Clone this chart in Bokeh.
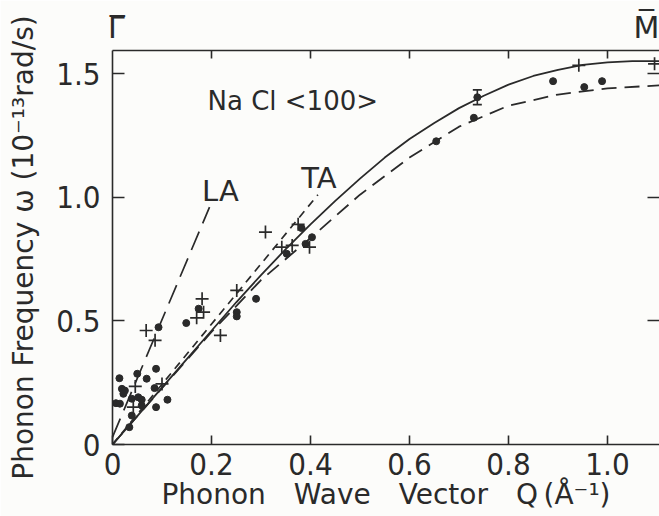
from bokeh.plotting import figure
from bokeh.models import FixedTicker, LinearAxis, Whisker, ColumnDataSource, TeeHead
from bokeh.core.properties import value
from bokeh.embed import file_html
from bokeh.resources import INLINE

# ---- data ----
solid_q = [0.0, 0.05, 0.10, 0.15, 0.20, 0.25, 0.30, 0.35, 0.40, 0.45, 0.50, 0.55,
           0.60, 0.65, 0.70, 0.75, 0.80, 0.85, 0.90, 0.95, 1.00, 1.05, 1.105]
solid_w = [0.0, 0.115, 0.23, 0.345, 0.46, 0.575, 0.685, 0.79, 0.89, 0.985, 1.075, 1.16,
           1.235, 1.30, 1.36, 1.41, 1.455, 1.49, 1.515, 1.535, 1.545, 1.55, 1.55]

lower_q = [0.0, 0.1, 0.2, 0.3, 0.4, 0.5, 0.6, 0.7, 0.8, 0.9, 1.0, 1.105]
lower_w = [0.0, 0.228, 0.455, 0.665, 0.835, 1.01, 1.16, 1.285, 1.37, 1.415, 1.44, 1.452]

ta_q = [0.0, 0.415]
ta_w = [0.0, 1.01]

la_q = [0.0, 0.196]
la_w = [0.03, 0.96]

dot_q = [0.007, 0.015, 0.014, 0.019, 0.025, 0.022, 0.034, 0.039, 0.039, 0.050, 0.052,
         0.059, 0.059, 0.069, 0.085, 0.088, 0.088, 0.093, 0.111, 0.149, 0.174, 0.251,
         0.251, 0.290, 0.352, 0.382, 0.390, 0.403, 0.654, 0.730, 0.890, 0.953, 0.989]
dot_w = [0.167, 0.165, 0.268, 0.225, 0.218, 0.205, 0.070, 0.117, 0.185, 0.286, 0.191,
         0.181, 0.158, 0.266, 0.228, 0.306, 0.151, 0.474, 0.181, 0.491, 0.549, 0.535,
         0.518, 0.589, 0.771, 0.875, 0.811, 0.838, 1.226, 1.321, 1.469, 1.445, 1.469]

plus_q = [0.042, 0.046, 0.068, 0.086, 0.100, 0.170, 0.181, 0.184, 0.218, 0.251,
          0.309, 0.342, 0.363, 0.375, 0.398, 0.942, 1.095]
plus_w = [0.151, 0.235, 0.461, 0.421, 0.245, 0.512, 0.589, 0.535, 0.441, 0.623,
          0.859, 0.798, 0.805, 0.890, 0.798, 1.533, 1.539]

err_q = [0.737]
err_w = [1.404]
err_e = [0.03]

x_ticks = [0, 0.2, 0.4, 0.6, 0.8, 1.0]
x_tick_labels = ["0", "0.2", "0.4", "0.6", "0.8", "1.0"]
y_ticks = [0, 0.5, 1.0, 1.5]
y_tick_labels = ["0", "0.5", "1.0", "1.5"]
zone_ticks = [0.008, 1.085]
zone_labels = ["Γ\u0305", "M\u0305"]

# ---- styling ----
INK = "#2a2a2a"
BG = "#fcfcfa"
FONT = "DejaVu Sans Condensed"
TFONT = "DejaVu Sans"

p = figure(width=659, height=516, x_range=(0, 1.105), y_range=(0, 1.593),
           output_backend="svg", toolbar_location=None,
           min_border_left=112, min_border_right=0, min_border_top=50, min_border_bottom=72)
p.background_fill_color = BG
p.border_fill_color = BG
p.outline_line_color = None
p.grid.visible = False

xa = p.xaxis[0]
xa.ticker = FixedTicker(ticks=x_ticks)
xa.major_label_overrides = dict(zip(x_ticks, x_tick_labels))
xa.major_tick_in = 9
xa.major_tick_out = 0
xa.minor_tick_line_color = None
xa.axis_line_color = INK
xa.axis_line_width = 1.6
xa.major_tick_line_color = INK
xa.major_tick_line_width = 1.6
xa.major_label_text_font = FONT
xa.major_label_text_font_size = "31px"
xa.major_label_text_color = INK
xa.major_label_standoff = 8
xa.axis_label = "Phonon\u2003Wave\u2003Vector\u2003Q\u2009(Å⁻¹)"
xa.axis_label_text_font = TFONT
xa.axis_label_text_font_size = "28px"
xa.axis_label_text_font_style = "normal"
xa.axis_label_text_color = INK
xa.axis_label_standoff = 0

ya = p.yaxis[0]
ya.ticker = FixedTicker(ticks=y_ticks)
ya.major_label_overrides = dict(zip(y_ticks, y_tick_labels))
ya.major_tick_in = 12
ya.major_tick_out = 0
ya.minor_tick_line_color = None
ya.axis_line_color = INK
ya.axis_line_width = 1.6
ya.major_tick_line_color = INK
ya.major_tick_line_width = 1.6
ya.major_label_text_font = FONT
ya.major_label_text_font_size = "31px"
ya.major_label_text_color = INK
ya.major_label_standoff = 12
ya.axis_label = "Phonon Frequency ω (10⁻¹³rad/s)"
ya.axis_label_text_font = TFONT
ya.axis_label_text_font_size = "28px"
ya.axis_label_text_font_style = "normal"
ya.axis_label_text_color = INK
ya.axis_label_standoff = 13

top1 = LinearAxis(ticker=FixedTicker(ticks=x_ticks[1:]),
                  major_label_overrides={t: "" for t in x_ticks[1:]},
                  major_tick_in=8, major_tick_out=0, minor_tick_line_color=None,
                  axis_line_color=INK, axis_line_width=1.6,
                  major_tick_line_color=INK, major_tick_line_width=1.6,
                  major_label_text_font_size="1px", major_label_standoff=0)
p.add_layout(top1, "above")

top2 = LinearAxis(ticker=FixedTicker(ticks=zone_ticks),
                  major_label_overrides=dict(zip(zone_ticks, zone_labels)),
                  axis_line_color=None, major_tick_line_color=None, minor_tick_line_color=None,
                  major_tick_in=0, major_tick_out=0,
                  major_label_text_font=TFONT, major_label_text_font_size="30px",
                  major_label_text_color=INK, major_label_standoff=6)
p.add_layout(top2, "above")

right = LinearAxis(ticker=FixedTicker(ticks=y_ticks[1:]),
                   major_label_overrides={t: "" for t in y_ticks[1:]},
                   major_tick_in=12, major_tick_out=0, minor_tick_line_color=None,
                   axis_line_color=None, major_tick_line_color=INK, major_tick_line_width=1.6,
                   major_label_text_font_size="1px", major_label_standoff=0)
p.add_layout(right, "right")

# ---- curves ----
p.line(solid_q, solid_w, line_color=INK, line_width=1.8)
p.line(lower_q, lower_w, line_color=INK, line_width=1.8, line_dash="15 8")
p.line(ta_q, ta_w, line_color=INK, line_width=1.7, line_dash="8 6")
p.line(la_q, la_w, line_color=INK, line_width=1.7, line_dash="20 9")

# ---- points ----
p.scatter(dot_q, dot_w, marker="circle", size=7, fill_color=INK, line_color=INK)
p.scatter(plus_q, plus_w, marker="cross", size=13, line_color=INK, line_width=1.7)

src = ColumnDataSource(dict(q=err_q, w=err_w,
                            lo=[w - e for w, e in zip(err_w, err_e)],
                            hi=[w + e for w, e in zip(err_w, err_e)]))
p.scatter("q", "w", source=src, marker="circle", size=7, fill_color=INK, line_color=INK)
p.add_layout(Whisker(base="q", lower="lo", upper="hi", source=src, dimension="height",
                     line_color=INK, line_width=1.6,
                     lower_head=TeeHead(size=9, line_color=INK, line_width=1.6),
                     upper_head=TeeHead(size=9, line_color=INK, line_width=1.6)))

# ---- annotations ----
p.text(x=[0.192], y=[1.39], text=["Na Cl  <100>"], text_font=value(TFONT),
       text_font_size="26px", text_color=INK, text_align="left", text_baseline="alphabetic")
p.text(x=[0.218], y=[1.023], text=["LA"], text_font=value(TFONT),
       text_font_size="29px", text_color=INK, text_align="center", text_baseline="middle")
p.text(x=[0.417], y=[1.076], text=["TA"], text_font=value(TFONT),
       text_font_size="29px", text_color=INK, text_align="center", text_baseline="middle")

open("out.html", "w").write(file_html(p, INLINE))
